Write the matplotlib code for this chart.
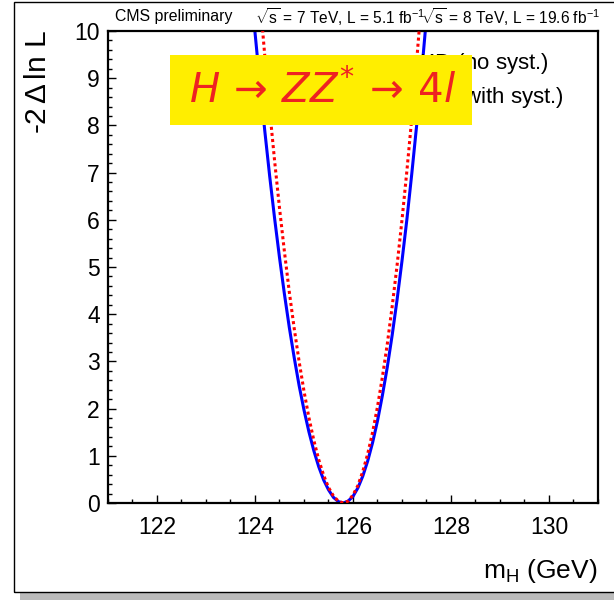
import matplotlib
matplotlib.use('Agg')
import matplotlib.pyplot as plt
from matplotlib.patches import Rectangle
from matplotlib.lines import Line2D
from matplotlib.ticker import MultipleLocator

plt.rcParams['font.family'] = ['Liberation Sans', 'DejaVu Sans']
plt.rcParams['mathtext.fontset'] = 'custom'
plt.rcParams['mathtext.rm'] = 'Liberation Sans'
plt.rcParams['mathtext.it'] = 'Liberation Sans:italic'

# -2 delta lnL scan, with systematics (blue solid)
mass_syst = [123.9, 124.0, 124.1, 124.2, 124.3, 124.4, 124.5, 124.6, 124.7, 124.8,
             124.9, 125.0, 125.1, 125.2, 125.3, 125.4, 125.5, 125.6, 125.7, 125.8,
             125.9, 126.0, 126.1, 126.2, 126.3, 126.4, 126.5, 126.6, 126.7, 126.8,
             126.9, 127.0, 127.1, 127.2, 127.3, 127.4, 127.5]
nll_syst = [11.11, 9.97, 8.89, 7.88, 6.92, 6.03, 5.20, 4.43, 3.72, 3.08,
            2.49, 1.97, 1.51, 1.11, 0.77, 0.49, 0.28, 0.12, 0.03, 0.0,
            0.04, 0.14, 0.32, 0.57, 0.89, 1.28, 1.74, 2.28, 2.88, 3.56,
            4.31, 5.13, 6.01, 6.98, 8.01, 9.11, 10.29]

# without systematics (red dotted)
mass_nosyst = [124.1, 124.2, 124.3, 124.4, 124.5, 124.6, 124.7, 124.8, 124.9, 125.0,
               125.1, 125.2, 125.3, 125.4, 125.5, 125.6, 125.7, 125.8, 125.9, 126.0,
               126.1, 126.2, 126.3, 126.4, 126.5, 126.6, 126.7, 126.8, 126.9, 127.0,
               127.1, 127.2, 127.3, 127.4]
nll_nosyst = [10.69, 9.47, 8.32, 7.25, 6.25, 5.33, 4.47, 3.70, 3.00, 2.37,
              1.81, 1.33, 0.92, 0.59, 0.33, 0.15, 0.04, 0.0, 0.04, 0.17,
              0.37, 0.67, 1.04, 1.50, 2.04, 2.67, 3.37, 4.17, 5.04, 6.00,
              7.04, 8.16, 9.37, 10.66]

labels = ['m$_{4l}$ + KD (no syst.)',
          'm$_{4l}$ + KD (with syst.)']

fig = plt.figure(figsize=(6.14, 6.0), dpi=100)
W, H = 614.0, 600.0

# canvas frame + shadow
fig.add_artist(Rectangle((20 / W, 0), 1.0, 7 / H, transform=fig.transFigure,
                         facecolor='#bbbbbb', edgecolor='none', zorder=0))
fig.add_artist(Rectangle((13.5 / W, 1 - 592 / H), 1.2, (592 - 1.5) / H,
                         transform=fig.transFigure, facecolor='none',
                         edgecolor='black', lw=1.0, zorder=0))

ax = fig.add_axes([108 / W, 1 - 503 / H, 490 / W, 472 / H])
ax.plot(mass_nosyst, nll_nosyst, color='#ff0000', lw=2.2, ls=(0, (1, 1)), zorder=3)
ax.plot(mass_syst, nll_syst, color='#0000ff', lw=2.2, zorder=2)

ax.set_xlim(121, 131)
ax.set_ylim(0, 10)
ax.xaxis.set_major_locator(MultipleLocator(2))
ax.xaxis.set_minor_locator(MultipleLocator(0.5))
ax.yaxis.set_major_locator(MultipleLocator(1))
ax.yaxis.set_minor_locator(MultipleLocator(0.2))
ax.tick_params(which='both', direction='in', top=False, right=False, width=1.0)
ax.tick_params(which='major', length=5.5)
ax.tick_params(which='minor', length=3)
ax.tick_params(axis='x', labelsize=16.5, pad=9)
ax.tick_params(axis='y', labelsize=16.5, pad=6)
for sp in ax.spines.values():
    sp.set_linewidth(1.6)

fig.text(597 / W, 1 - 571 / H, 'm$_{\\mathrm{H}}$ (GeV)', fontsize=19, ha='right', va='center')
fig.text(38 / W, 1 - 30 / H, '-2$\\,\\Delta\\,$ln L', fontsize=21.5, rotation=90, ha='center', va='top')

fig.text(115 / W, 1 - 17 / H, 'CMS preliminary', fontsize=11.4, ha='left', va='center')
fig.text(255 / W, 1 - 17 / H, '$\\sqrt{\\mathrm{s}}$ = 7 TeV, L = 5.1 fb$^{-1}$', fontsize=11.2, ha='left', va='center')
fig.text(600 / W, 1 - 17 / H, '$\\sqrt{\\mathrm{s}}$ = 8 TeV, L = 19.6 fb$^{-1}$', fontsize=11.2, ha='right', va='center')

handles = [Line2D([], [], color='#ff0000', lw=2.2, ls=(0, (1, 1))),
           Line2D([], [], color='#0000ff', lw=2.2)]
ax.legend(handles, labels, loc='upper right', bbox_to_anchor=((564 - 108) / 490, (503 - 51) / 472),
          frameon=False, fontsize=16, borderpad=0, borderaxespad=0, labelspacing=0.42)

# yellow label box on top of the curves
fig.add_artist(Rectangle((170 / W, 1 - 125 / H), 302 / W, 70 / H, transform=fig.transFigure,
                         facecolor='#ffee00', edgecolor='none', zorder=5))
fig.text(323 / W, 1 - 90 / H, '$H \\,\\rightarrow\\, ZZ^{*} \\,\\rightarrow\\, 4l$', fontsize=29,
         color='#ee2222', ha='center', va='center', math_fontfamily='dejavusans', zorder=6)

fig.savefig('out.png', dpi=100)
